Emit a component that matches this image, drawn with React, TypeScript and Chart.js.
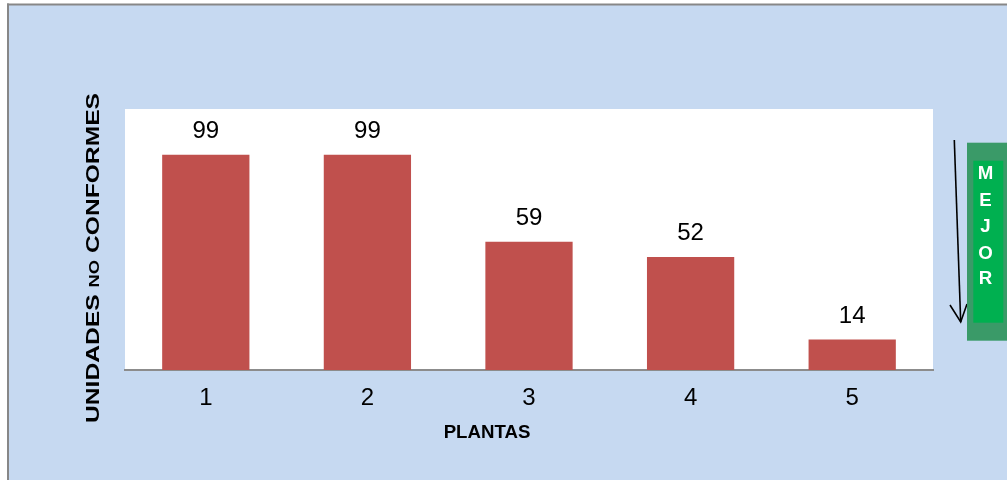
import React, { useEffect, useRef } from "react";
import { Chart, registerables } from "chart.js";

Chart.register(...registerables);

const categories = ["1", "2", "3", "4", "5"];
const values = [99, 99, 59, 52, 14];
const yMax = 120;
const sideLetters = ["M", "E", "J", "O", "R"];

const FONT = "'Liberation Sans', Arial, sans-serif";

const decorPlugin = {
  id: "decor",
  beforeDraw(chart: any) {
    const { ctx, chartArea } = chart;
    ctx.save();
    ctx.fillStyle = "#ffffff";
    ctx.fillRect(0, 0, chart.width, chart.height);
    ctx.fillStyle = "#c6d9f1";
    ctx.fillRect(8, 5, chart.width - 8, chart.height - 5);
    ctx.fillStyle = "#878787";
    ctx.fillRect(7, 3.5, chart.width - 7, 2);
    ctx.fillRect(7, 3.5, 2, chart.height);
    ctx.fillStyle = "#ffffff";
    ctx.fillRect(
      chartArea.left,
      chartArea.top,
      chartArea.right - chartArea.left,
      chartArea.bottom - chartArea.top
    );
    ctx.restore();
  },
  afterDraw(chart: any) {
    const { ctx } = chart;
    ctx.save();
    // value labels
    const meta = chart.getDatasetMeta(0);
    ctx.fillStyle = "#000000";
    ctx.font = `24px ${FONT}`;
    ctx.textAlign = "center";
    ctx.textBaseline = "alphabetic";
    meta.data.forEach((bar: any, i: number) => {
      ctx.fillText(String(values[i]), bar.x, bar.y - 16.5);
    });

    // x title
    ctx.font = `bold 18.67px ${FONT}`;
    ctx.fillText("PLANTAS", 487, 438.3);

    // y title
    const big = `bold 18.67px ${FONT}`;
    const small = `bold 14px ${FONT}`;
    const parts: [string, string][] = [
      ["UNIDADES ", big],
      ["NO", small],
      [" CONFORMES", big],
    ];
    let w = 0;
    const widths = parts.map(([t, f]) => {
      ctx.font = f;
      const m = ctx.measureText(t).width;
      w += m;
      return m;
    });
    const s = 330 / w;
    ctx.translate(99, 258);
    ctx.rotate(-Math.PI / 2);
    ctx.scale(s, 1);
    ctx.textAlign = "left";
    let x = -w / 2;
    parts.forEach(([t, f], i) => {
      ctx.font = f;
      ctx.fillText(t, x, 0);
      x += widths[i];
    });
    const dpr = chart.currentDevicePixelRatio || 1;
    ctx.setTransform(dpr, 0, 0, dpr, 0, 0);

    // arrow
    ctx.strokeStyle = "#000000";
    ctx.lineWidth = 1.6;
    ctx.beginPath();
    ctx.moveTo(954.3, 140);
    ctx.lineTo(960.7, 322);
    ctx.stroke();
    ctx.beginPath();
    ctx.moveTo(950, 305);
    ctx.lineTo(960.7, 322);
    ctx.lineTo(967, 304);
    ctx.stroke();

    // green boxes
    ctx.fillStyle = "#3a9a68";
    ctx.fillRect(967, 142.7, 50, 198);
    ctx.fillStyle = "#00b050";
    ctx.fillRect(973.3, 160.7, 30, 162);
    ctx.fillStyle = "#ffffff";
    ctx.font = `bold 18.67px ${FONT}`;
    ctx.textAlign = "center";
    ctx.textBaseline = "middle";
    const ys = [174, 200.5, 227, 254, 279];
    sideLetters.forEach((l, i) => ctx.fillText(l, 985.5, ys[i]));
    ctx.restore();
  },
};

export default function App() {
  const ref = useRef<HTMLCanvasElement | null>(null);
  useEffect(() => {
    document.body.style.margin = "0";
    const chart = new Chart(ref.current as HTMLCanvasElement, {
      type: "bar",
      data: {
        labels: categories,
        datasets: [
          {
            data: values,
            backgroundColor: "#c0504d",
            borderWidth: 0,
            barPercentage: 0.54,
            categoryPercentage: 1,
          },
        ],
      },
      options: {
        responsive: false,
        animation: false,
        layout: { padding: { left: 125, right: 74, top: 109, bottom: 53.2 } },
        plugins: {
          legend: { display: false },
          tooltip: { enabled: false },
        },
        scales: {
          x: {
            grid: { display: false, drawTicks: false },
            border: { display: true, color: "#8c8c8c", width: 2 },
            ticks: {
              color: "#000000",
              font: { family: FONT, size: 24 },
              padding: 14,
            },
          },
          y: {
            display: false,
            min: 0,
            max: yMax,
          },
        },
      },
      plugins: [decorPlugin],
    });
    return () => chart.destroy();
  }, []);
  return (
    <div style={{ width: 1007, height: 480 }}>
      <canvas ref={ref} width={1007} height={480} />
    </div>
  );
}
